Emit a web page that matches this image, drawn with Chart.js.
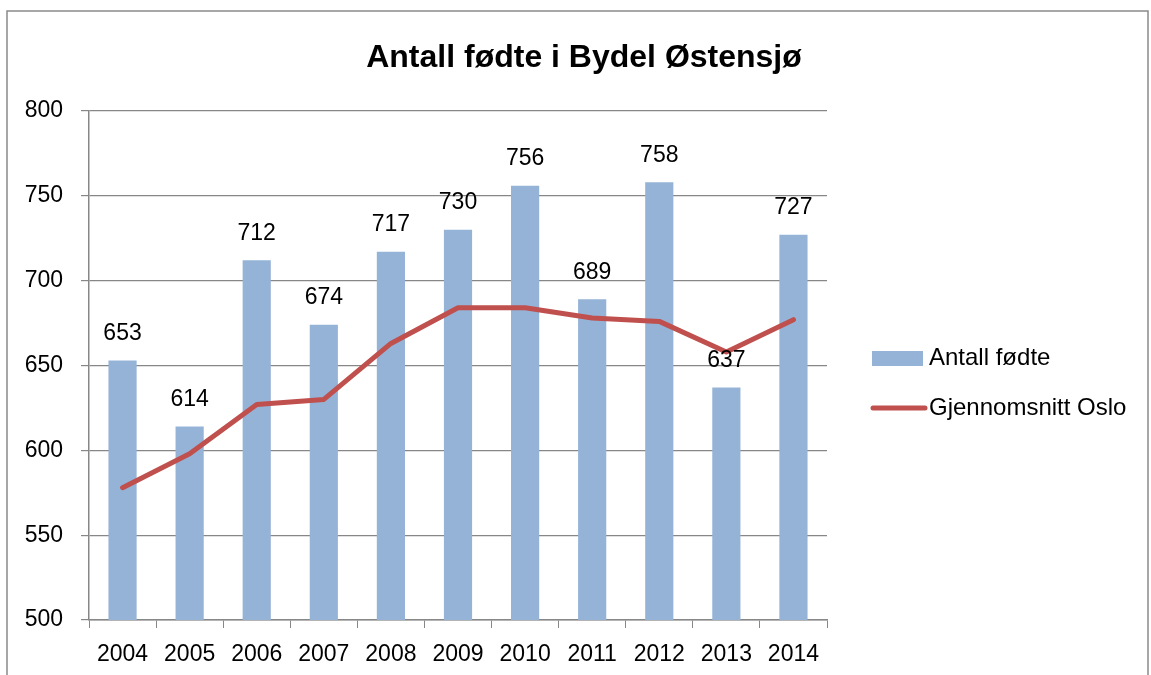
<!DOCTYPE html>
<html>
<head>
<meta charset="utf-8">
<script src="https://cdn.jsdelivr.net/npm/chart.js@4/dist/chart.umd.min.js"></script>
<style>
  body { margin: 0; background: #fff; }
  #wrap { position: absolute; left: 0; top: 0; width: 1151px; height: 675px; }
</style>
</head>
<body>
<div id="wrap"><canvas id="grafico" width="1151" height="675"></canvas></div>
<script>
const aar = ["2004", "2005", "2006", "2007", "2008", "2009", "2010", "2011", "2012", "2013", "2014"];
const antallFodte = [653, 614, 712, 674, 717, 730, 756, 689, 758, 637, 727];
const snittOslo = [578, 598, 627, 630, 663, 684, 684, 678, 676, 658, 677];
const yTicks = [500, 550, 600, 650, 700, 750, 800];

const tittel = "Antall fødte i Bydel Østensjø";
const fontNavn = "'Liberation Sans', Arial, sans-serif";
const blaa = "#95b3d7";
const roed = "#c0504d";
const graa = "#878787";

// tegner ramme, tittel, verdier over stolpene og forklaring
const ekstra = {
  id: "ekstra",
  beforeDraw(chart) {
    const ctx = chart.ctx;
    ctx.save();
    ctx.fillStyle = "#fff";
    ctx.fillRect(0, 0, chart.width, chart.height);
    ctx.strokeStyle = "#8a8a8a";
    ctx.lineWidth = 1.5;
    ctx.strokeRect(7, 11, 1141, 700);
    ctx.restore();
  },
  afterDatasetsDraw(chart) {
    const ctx = chart.ctx;
    ctx.save();
    ctx.fillStyle = "#000";
    ctx.font = "bold 32px " + fontNavn;
    ctx.textAlign = "center";
    ctx.textBaseline = "middle";
    ctx.fillText(tittel, 584, 58);

    ctx.font = "23px " + fontNavn;
    const meta = chart.getDatasetMeta(0);
    meta.data.forEach((bar, i) => {
      ctx.fillText(String(antallFodte[i]), bar.x, bar.y - 27);
    });

    // forklaring
    ctx.textAlign = "left";
    ctx.fillStyle = blaa;
    ctx.fillRect(872, 351, 51, 15);
    ctx.strokeStyle = roed;
    ctx.lineWidth = 5;
    ctx.lineCap = "round";
    ctx.beginPath();
    ctx.moveTo(873, 408);
    ctx.lineTo(925, 408);
    ctx.stroke();
    ctx.fillStyle = "#000";
    ctx.font = "24px " + fontNavn;
    ctx.fillText(chart.data.datasets[0].label, 929, 358);
    ctx.fillText(chart.data.datasets[1].label, 929, 408);
    ctx.restore();
  }
};

new Chart(document.getElementById("grafico"), {
  data: {
    labels: aar,
    datasets: [
      {
        type: "bar",
        label: "Antall fødte",
        data: antallFodte,
        backgroundColor: blaa,
        barPercentage: 0.42,
        categoryPercentage: 1,
        order: 1
      },
      {
        type: "line",
        label: "Gjennomsnitt Oslo",
        data: snittOslo,
        borderColor: roed,
        borderWidth: 5,
        borderCapStyle: "round",
        borderJoinStyle: "round",
        pointRadius: 0,
        tension: 0,
        order: 0
      }
    ]
  },
  options: {
    responsive: false,
    animation: false,
    layout: { padding: { top: 111, right: 324, left: 0, bottom: 0 } },
    plugins: {
      legend: { display: false },
      title: { display: false },
      tooltip: { enabled: false }
    },
    scales: {
      x: {
        grid: { offset: true, drawOnChartArea: false, drawTicks: true, tickLength: 8, color: graa },
        border: { color: graa, width: 1.5 },
        ticks: { color: "#000", font: { family: fontNavn, size: 23 }, padding: 13, maxRotation: 0 },
        afterFit(scale) { scale.height = 55; }
      },
      y: {
        min: 500,
        max: 800,
        afterBuildTicks(scale) { scale.ticks = yTicks.map(v => ({ value: v })); },
        grid: { color: graa, lineWidth: 1.2, tickLength: 8 },
        border: { color: graa, width: 1.5 },
        ticks: { color: "#000", font: { family: fontNavn, size: 23 }, padding: 18 },
        afterFit(scale) { scale.width = 89; }
      }
    }
  },
  plugins: [ekstra]
});
</script>
</body>
</html>
